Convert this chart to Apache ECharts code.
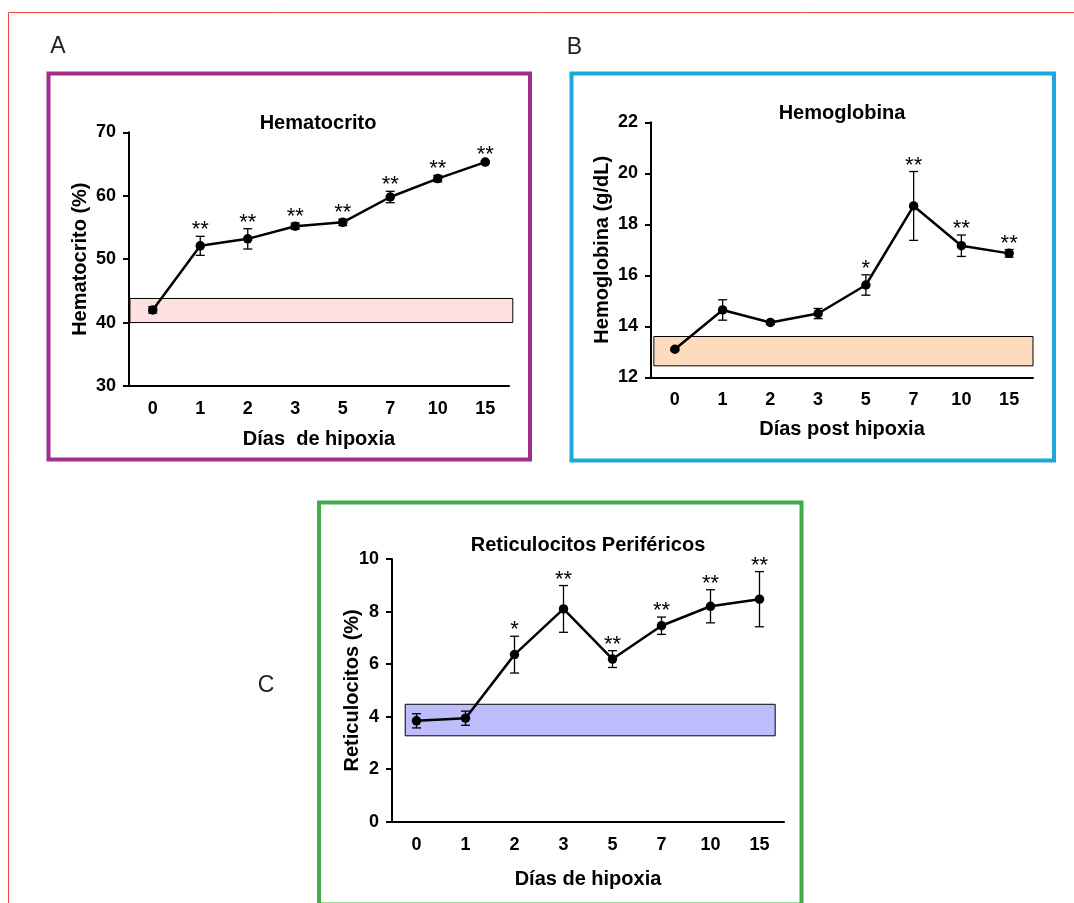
<!DOCTYPE html>
<html>
<head>
<meta charset="utf-8">
<script src="https://cdn.jsdelivr.net/npm/echarts@6/dist/echarts.min.js"></script>
<style>
html,body{margin:0;padding:0;background:#fff;}
#c{width:1074px;height:903px;}
</style>
</head>
<body>
<div id="c"></div>
<script>
// ---------- data ----------
const categories = ['0', '1', '2', '3', '5', '7', '10', '15'];

const hctMean  = [42.0, 52.1, 53.2, 55.2, 55.8, 59.8, 62.7, 65.3];
const hctErr   = [0.5, 1.5, 1.6, 0.5, 0.5, 0.9, 0.5, 0.2];
const hctStars = ['', '**', '**', '**', '**', '**', '**', '**'];
const hctRange = [40, 43.8];

const hgbMean  = [13.1, 14.64, 14.15, 14.5, 15.62, 18.72, 17.16, 16.86];
const hgbErr   = [0.06, 0.4, 0.07, 0.2, 0.4, 1.35, 0.42, 0.15];
const hgbStars = ['', '', '', '', '*', '**', '**', '**'];
const hgbRange = [12.45, 13.6];

const retMean  = [3.84, 3.94, 6.36, 8.1, 6.19, 7.46, 8.2, 8.47];
const retErr   = [0.27, 0.27, 0.7, 0.89, 0.32, 0.33, 0.63, 1.05];
const retStars = ['', '', '*', '**', '**', '**', '**', '**'];
const retRange = [3.27, 4.47];

const hctTicks = {min: 30, max: 70, interval: 10};
const hgbTicks = {min: 12, max: 22, interval: 2};
const retTicks = {min: 0, max: 10, interval: 2};

// ---------- styling ----------
const FONT = '"Liberation Sans", Arial, Helvetica, sans-serif';
const panels = [
  {grid: {left: 129, top: 132.3, width: 380, height: 253.7}, ticks: hctTicks, mean: hctMean, err: hctErr, stars: hctStars,
   range: hctRange, bandX: [-0.48, 7.58], bandColor: '#fde1e1', yName: 'Hematocrito (%)', xName: 'Días  de hipoxia',
   yGap: 39, xGap: 43},
  {grid: {left: 651, top: 122.3, width: 382, height: 255}, ticks: hgbTicks, mean: hgbMean, err: hgbErr, stars: hgbStars,
   range: hgbRange, bandX: [-0.44, 7.5], bandColor: '#fddcbd', yName: 'Hemoglobina (g/dL)', xName: 'Días post hipoxia',
   yGap: 39, xGap: 42},
  {grid: {left: 392, top: 559, width: 392, height: 262.7}, ticks: retTicks, mean: retMean, err: retErr, stars: retStars,
   range: retRange, bandX: [-0.23, 7.32], bandColor: '#bdbdfc', yName: 'Reticulocitos (%)', xName: 'Días de hipoxia',
   yGap: 30, xGap: 48}
];

const grids = [], xAxes = [], yAxes = [], series = [];
panels.forEach((p, i) => {
  grids.push(p.grid);
  xAxes.push({
    type: 'category', gridIndex: i, data: categories, boundaryGap: true,
    axisLine: {onZero: false, lineStyle: {color: '#000', width: 2}},
    axisTick: {alignWithLabel: true, length: 6, lineStyle: {color: '#000', width: 2}},
    axisLabel: {color: '#000', fontFamily: FONT, fontWeight: 'bold', fontSize: 18, margin: 14},
    splitLine: {show: false},
    name: p.xName, nameLocation: 'middle', nameGap: p.xGap, nameMoveOverlap: false,
    nameTextStyle: {color: '#000', fontFamily: FONT, fontWeight: 'bold', fontSize: 20}
  });
  yAxes.push({
    type: 'value', gridIndex: i, min: p.ticks.min, max: p.ticks.max, interval: p.ticks.interval,
    axisLine: {show: true, onZero: false, lineStyle: {color: '#000', width: 2}},
    axisTick: {show: true, length: 6, lineStyle: {color: '#000', width: 2}},
    axisLabel: {color: '#000', fontFamily: FONT, fontWeight: 'bold', fontSize: 18, margin: 13},
    splitLine: {show: false},
    name: p.yName, nameLocation: 'middle', nameGap: p.yGap, nameRotate: 90, nameMoveOverlap: false,
    nameTextStyle: {color: '#000', fontFamily: FONT, fontWeight: 'bold', fontSize: 20}
  });
});
// hidden value x-axes for the normal-range bands
panels.forEach((p, i) => {
  xAxes.push({type: 'value', gridIndex: i, min: -0.5, max: 7.5, show: false,
              axisLine: {onZero: false}, splitLine: {show: false}});
});

panels.forEach((p, i) => {
  // normal range band
  series.push({
    type: 'custom', xAxisIndex: 3 + i, yAxisIndex: i, clip: false, z: 1, silent: true,
    data: [[p.bandX[0], p.bandX[1], p.range[0], p.range[1]]],
    renderItem: function (params, api) {
      const a = api.coord([api.value(0), api.value(3)]);
      const b = api.coord([api.value(1), api.value(2)]);
      return {type: 'rect', shape: {x: a[0], y: a[1], width: b[0] - a[0], height: b[1] - a[1]},
              style: {fill: p.bandColor, stroke: '#000', lineWidth: 1}};
    }
  });
  // mean line
  series.push({
    type: 'line', xAxisIndex: i, yAxisIndex: i, data: p.mean, z: 5, silent: true,
    symbol: 'circle', symbolSize: 9.5, showSymbol: true,
    itemStyle: {color: '#000'}, lineStyle: {color: '#000', width: 2.5}, animation: false
  });
  // error bars + significance stars
  series.push({
    type: 'custom', xAxisIndex: i, yAxisIndex: i, clip: false, z: 4, silent: true,
    data: p.mean.map((m, k) => [k, m, p.err[k]]),
    renderItem: function (params, api) {
      const x = api.value(0), m = api.value(1), e = api.value(2);
      const top = api.coord([x, m + e]);
      const bot = api.coord([x, m - e]);
      const w = 4.5;
      const ls = {stroke: '#000', lineWidth: 1.3};
      const children = [
        {type: 'line', shape: {x1: top[0], y1: top[1], x2: bot[0], y2: bot[1]}, style: ls},
        {type: 'line', shape: {x1: top[0] - w, y1: top[1], x2: top[0] + w, y2: top[1]}, style: ls},
        {type: 'line', shape: {x1: bot[0] - w, y1: bot[1], x2: bot[0] + w, y2: bot[1]}, style: ls}
      ];
      const s = p.stars[params.dataIndex];
      if (s) {
        children.push({type: 'text', x: top[0], y: top[1] - 6,
          style: {text: s, fill: '#000', font: '22px ' + FONT, textAlign: 'center', textVerticalAlign: 'middle'}});
      }
      return {type: 'group', children: children};
    }
  });
});

const titleStyle = (t, x, y) => ({type: 'text', x: x, y: y,
  style: {text: t, fill: '#000', font: 'bold 20px ' + FONT, textAlign: 'center', textVerticalAlign: 'middle'}});
const letterStyle = (t, x, y) => ({type: 'text', x: x, y: y,
  style: {text: t, fill: '#222', font: '23px ' + FONT, textAlign: 'center', textVerticalAlign: 'middle'}});
const box = (x0, y0, x1, y1, c) => ({type: 'rect', shape: {x: x0, y: y0, width: x1 - x0, height: y1 - y0},
  style: {fill: 'none', stroke: c, lineWidth: 4}, z: 0});

const graphics = [
  {type: 'line', shape: {x1: 8.5, y1: 12.5, x2: 1074, y2: 12.5}, style: {stroke: '#e8483f', lineWidth: 1}},
  {type: 'line', shape: {x1: 8.5, y1: 12.5, x2: 8.5, y2: 903}, style: {stroke: '#e8483f', lineWidth: 1}},
  box(48.5, 73.5, 530, 459.5, '#9e2f8d'),
  box(571.5, 73.5, 1054, 460.5, '#1ca7dd'),
  box(319, 502.5, 801.5, 904.5, '#43ab4a'),
  letterStyle('A', 58, 47),
  letterStyle('B', 574.5, 48),
  letterStyle('C', 266, 686),
  titleStyle('Hematocrito', 318, 123),
  titleStyle('Hemoglobina', 842, 113),
  titleStyle('Reticulocitos Periféricos', 588, 545)
];

const chart = echarts.init(document.getElementById('c'), null, {renderer: 'canvas'});
chart.setOption({
  animation: false,
  backgroundColor: '#fff',
  grid: grids,
  xAxis: xAxes,
  yAxis: yAxes,
  series: series,
  graphic: graphics
});
</script>
</body>
</html>
